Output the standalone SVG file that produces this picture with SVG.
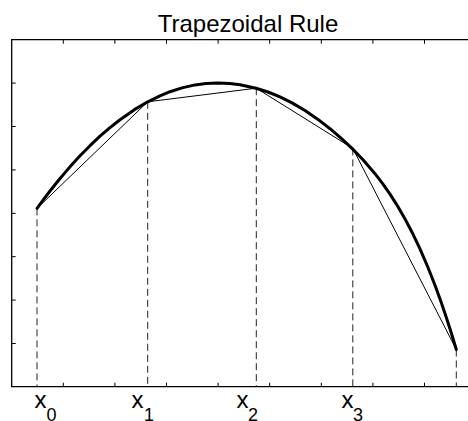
<svg xmlns="http://www.w3.org/2000/svg" width="468" height="421" viewBox="0 0 468 421">
<style>
.ax{stroke:#000;stroke-width:1.3;fill:none}
.tk{stroke:#000;stroke-width:1;fill:none}
.curve{stroke:#000;stroke-width:3;fill:none;stroke-linejoin:round;stroke-linecap:round}
.chord{stroke:#000;stroke-width:1;fill:none;stroke-linejoin:miter}
.dash{stroke:#222;stroke-width:1;stroke-dasharray:7 4;fill:none}
text{font-family:"Liberation Sans",Arial,sans-serif;fill:#000}
.lab{font-size:24px}
.sub{font-size:18px}
</style>
<rect width="468" height="421" fill="#fff"/>
<g id="axes">
<path class="ax" d="M476,39.7 H11.7 V386.7 H476"/>
<path class="tk" d="M63.3,39.7v4 M114.9,39.7v4 M166.5,39.7v4 M218.1,39.7v4 M269.7,39.7v4 M321.3,39.7v4 M372.9,39.7v4 M424.5,39.7v4
M63.3,386.7v-4 M114.9,386.7v-4 M166.5,386.7v-4 M218.1,386.7v-4 M269.7,386.7v-4 M321.3,386.7v-4 M372.9,386.7v-4 M424.5,386.7v-4
M11.7,83.1h4 M11.7,126.5h4 M11.7,169.9h4 M11.7,213.3h4 M11.7,256.7h4 M11.7,300.1h4 M11.7,343.5h4"/>
</g>
<g id="title"><text x="248" y="31.5" font-size="24" text-anchor="middle">Trapezoidal Rule</text></g>
<g id="connectors">
<path class="dash" d="M37,208.4V386.7 M147.7,101.8V386.7 M256.3,88.2V386.7 M352.8,148.4V386.7 M456.3,349.5V386.7"/>
<polyline class="chord" points="37,208.4 147.7,101.8 256.3,88.2 352.8,148.4 456.3,349.5"/>
<path class="curve" d="M37,208.4 L44,198.9 L50,191 L58,181 L65,172.6 L72,164.5 L80,155.8 L90,145.7 L100,136.2 L110,127.6 L120,119.7 L134,109.9 L147.7,101.8 L160,95.8 L170,91.7 L182,87.9 L195,84.9 L206,83.4 L218,82.9 L230,83.4 L240,84.7 L256,88.2 L268,92 L280,96.9 L292,102.9 L305,110.5 L318,119.4 L330,128.7 L341,138.1 L352,148.4 L363,159.8 L375,173.7 L383,184.1 L390,194.1 L398,206.8 L405,218.9 L412,232.2 L420,248.9 L428,267.5 L435,285.2 L441,301.7 L446,316.4 L451,332 L456.3,349.5"/>
</g>
<g id="label-x0"><text class="lab" x="34.5" y="408">x</text><text class="sub" x="46.5" y="420.5">0</text></g>
<g id="label-x1"><text class="lab" x="131.5" y="408">x</text><text class="sub" x="144" y="420.5">1</text></g>
<g id="label-x2"><text class="lab" x="236.5" y="408">x</text><text class="sub" x="248" y="420.5">2</text></g>
<g id="label-x3"><text class="lab" x="341.5" y="408">x</text><text class="sub" x="353" y="420.5">3</text></g>
</svg>
